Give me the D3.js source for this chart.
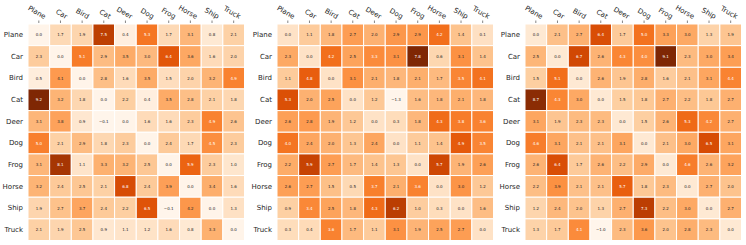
<!DOCTYPE html>
<html lang="en">
<head>
<meta charset="utf-8">
<title>heatmaps</title>
<script src="https://cdn.jsdelivr.net/npm/d3@7"></script>
<style>
  body { margin: 0; background: #fff; }
  text { font-family: "DejaVu Sans", sans-serif; }
</style>
</head>
<body>
<div id="chart"></div>
<script>
var classes = ["Plane", "Car", "Bird", "Cat", "Deer", "Dog", "Frog", "Horse", "Ship", "Truck"];

var matrix1 = [
  [0.0, 1.7, 1.9, 7.5, 0.4, 5.3, 1.7, 3.1, 0.8, 2.1],
  [2.3, 0.0, 5.1, 2.9, 3.5, 3.0, 6.4, 3.6, 1.6, 2.0],
  [0.5, 4.1, 0.0, 2.8, 1.6, 3.5, 1.5, 2.0, 3.2, 4.9],
  [9.2, 3.2, 1.8, 0.0, 2.2, 0.4, 3.5, 2.8, 2.1, 1.8],
  [3.1, 3.8, 0.9, -0.1, 0.0, 1.6, 1.6, 2.3, 4.9, 2.6],
  [5.0, 2.1, 2.9, 1.8, 2.3, 0.0, 2.4, 1.7, 4.5, 2.3],
  [3.1, 8.1, 1.1, 3.3, 3.2, 2.5, 0.0, 5.9, 2.3, 1.0],
  [3.2, 2.4, 2.5, 2.1, 6.8, 2.4, 3.9, 0.0, 3.4, 1.6],
  [1.9, 2.7, 3.7, 2.4, 2.2, 6.5, -0.1, 4.2, 0.0, 1.3],
  [2.1, 1.9, 2.5, 0.9, 1.1, 1.2, 1.6, 0.8, 3.3, 0.0]
];

var matrix2 = [
  [0.0, 1.1, 1.8, 2.7, 2.0, 2.9, 2.9, 4.2, 1.4, 0.1],
  [2.3, 0.0, 4.2, 2.5, 3.3, 3.1, 7.8, 0.6, 3.1, 1.4],
  [1.1, 4.8, 0.0, 3.1, 2.1, 1.8, 2.1, 1.7, 3.5, 4.1],
  [5.3, 2.0, 2.5, 0.0, 1.2, -1.3, 1.6, 1.8, 2.1, 1.8],
  [2.6, 2.8, 1.9, 1.2, 0.0, 0.3, 1.8, 4.3, 3.8, 3.6],
  [4.0, 2.4, 2.0, 1.3, 2.4, 0.0, 1.1, 1.4, 4.9, 3.5],
  [2.2, 5.9, 2.7, 1.7, 1.4, 1.3, 0.0, 5.7, 1.9, 2.6],
  [2.6, 2.7, 1.5, 0.5, 3.7, 2.1, 3.6, 0.0, 3.0, 1.2],
  [0.9, 3.4, 2.5, 1.8, 4.3, 6.2, 1.0, 0.3, 0.0, 1.6],
  [0.3, 0.4, 3.6, 1.7, 1.1, 3.1, 1.9, 2.5, 2.7, 0.0]
];

var matrix3 = [
  [0.0, 2.1, 2.7, 6.4, 1.7, 5.0, 3.3, 3.0, 1.3, 1.9],
  [2.5, 0.0, 6.7, 2.6, 4.3, 4.0, 9.1, 2.3, 3.0, 3.4],
  [1.5, 5.1, 0.0, 2.6, 1.9, 2.8, 1.6, 2.1, 3.1, 4.4],
  [8.7, 4.3, 3.0, 0.0, 1.5, 1.8, 2.7, 2.2, 1.8, 2.7],
  [3.1, 1.9, 2.3, 2.3, 0.0, 1.5, 2.6, 5.3, 4.2, 2.7],
  [4.6, 3.1, 2.1, 2.1, 3.1, 0.0, 2.1, 3.0, 6.5, 3.1],
  [2.6, 6.4, 1.7, 2.6, 2.2, 2.9, 0.0, 4.6, 2.6, 3.2],
  [2.2, 3.9, 2.1, 2.1, 5.7, 1.8, 2.3, 0.0, 2.7, 2.0],
  [1.2, 2.4, 2.0, 1.3, 2.7, 7.3, 2.2, 3.0, 0.0, 2.7],
  [1.3, 1.7, 4.1, -1.0, 2.3, 3.6, 2.0, 2.8, 2.3, 0.0]
];

var W = 746, H = 245;
var svg = d3.select("#chart").append("svg")
    .attr("width", W)
    .attr("height", H);

var gridSize = 216.5;
var top0 = 24;
var lefts = [28, 277, 525];

// luminance test, like seaborn does for annotations
function textColor(c) {
  var rgb = d3.rgb(c);
  var lin = [rgb.r, rgb.g, rgb.b].map(function(v) {
    v = v / 255;
    return v <= 0.03928 ? v / 12.92 : Math.pow((v + 0.055) / 1.055, 2.4);
  });
  var L = 0.2126 * lin[0] + 0.7152 * lin[1] + 0.0722 * lin[2];
  return L > 0.408 ? "#262626" : "#ffffff";
}

function drawHeatmap(matrix, left) {
  var g = svg.append("g").attr("transform", "translate(" + left + "," + top0 + ")");

  var x = d3.scaleBand().domain(classes).range([0, gridSize]);
  var y = d3.scaleBand().domain(classes).range([0, gridSize]);

  var flat = [];
  matrix.forEach(function(row, i) {
    row.forEach(function(v, j) {
      flat.push({ row: classes[i], col: classes[j], value: v });
    });
  });

  var color = d3.scaleSequential(d3.interpolateOranges)
      .domain(d3.extent(flat, function(d) { return d.value; }));

  g.selectAll("rect")
    .data(flat)
    .enter()
    .append("rect")
    .attr("x", function(d) { return x(d.col); })
    .attr("y", function(d) { return y(d.row); })
    .attr("width", x.bandwidth())
    .attr("height", y.bandwidth())
    .style("fill", function(d) { return color(d.value); })
    .style("stroke", "#fff")
    .style("stroke-width", 1);

  g.selectAll("text.val")
    .data(flat)
    .enter()
    .append("text")
    .attr("class", "val")
    .attr("x", function(d) { return x(d.col) + x.bandwidth() / 2; })
    .attr("y", function(d) { return y(d.row) + y.bandwidth() / 2; })
    .attr("text-anchor", "middle")
    .attr("dominant-baseline", "central")
    .attr("font-size", "4px")
    .style("fill", function(d) { return textColor(color(d.value)); })
    .text(function(d) { return d3.format(".1f")(d.value); });

  // top axis with rotated labels
  var xAxis = d3.axisTop(x).tickSize(2.5).tickPadding(3);
  var ax = g.append("g").attr("transform", "translate(0,-1)").call(xAxis);
  ax.select(".domain").remove();
  ax.selectAll(".tick line").attr("stroke", "#333").attr("stroke-width", 0.6);
  ax.selectAll(".tick text")
    .attr("font-size", "7px")
    .attr("fill", "#262626")
    .attr("text-anchor", "end")
    .attr("y", -4.5)
    .attr("dy", "0")
    .attr("transform", "translate(3,0) rotate(30)");

  // left axis, no ticks shown
  var yAxis = d3.axisLeft(y).tickSize(0).tickPadding(5);
  var ay = g.append("g").call(yAxis);
  ay.select(".domain").remove();
  ay.selectAll(".tick text")
    .attr("font-size", "7px")
    .attr("fill", "#262626");
}

drawHeatmap(matrix1, lefts[0]);
drawHeatmap(matrix2, lefts[1]);
drawHeatmap(matrix3, lefts[2]);
</script>
</body>
</html>
